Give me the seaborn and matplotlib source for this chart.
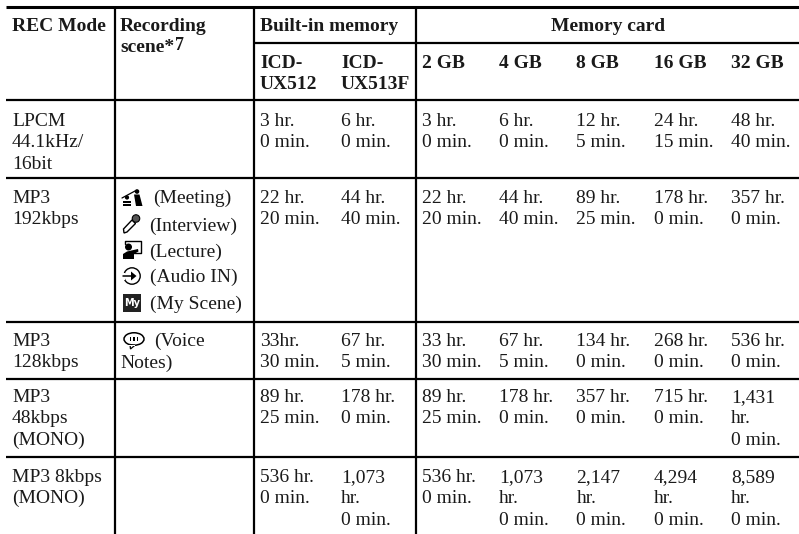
import matplotlib
matplotlib.use('Agg')
import matplotlib.pyplot as plt
from matplotlib.patches import Circle, Ellipse, Polygon, Rectangle
import pandas as pd
import seaborn as sns

# Table content
header_top = ['REC Mode', 'Recording\nscene*']
group_labels = ['Built-in memory', 'Memory card']
column_labels = ['ICD-\nUX512', 'ICD-\nUX513F', '2 GB', '4 GB', '8 GB', '16 GB', '32 GB']
rec_modes = ['LPCM\n44.1kHz/\n16bit', 'MP3\n192kbps', 'MP3\n128kbps', 'MP3\n48kbps\n(MONO)', 'MP3 8kbps\n(MONO)']
scene_labels = ['(Meeting)', '(Interview)', '(Lecture)', '(Audio IN)', '(My Scene)']
voice_labels = ['(Voice', 'Notes)']

ux512 = ['3 hr.\n0 min.', '22 hr.\n20 min.', '33hr.\n30 min.', '89 hr.\n25 min.', '536 hr.\n0 min.']
ux513f = ['6 hr.\n0 min.', '44 hr.\n40 min.', '67 hr.\n5 min.', '178 hr.\n0 min.', '1,073\nhr.\n0 min.']
card_2gb = ['3 hr.\n0 min.', '22 hr.\n20 min.', '33 hr.\n30 min.', '89 hr.\n25 min.', '536 hr.\n0 min.']
card_4gb = ['6 hr.\n0 min.', '44 hr.\n40 min.', '67 hr.\n5 min.', '178 hr.\n0 min.', '1,073\nhr.\n0 min.']
card_8gb = ['12 hr.\n5 min.', '89 hr.\n25 min.', '134 hr.\n0 min.', '357 hr.\n0 min.', '2,147\nhr.\n0 min.']
card_16gb = ['24 hr.\n15 min.', '178 hr.\n0 min.', '268 hr.\n0 min.', '715 hr.\n0 min.', '4,294\nhr.\n0 min.']
card_32gb = ['48 hr.\n40 min.', '357 hr.\n0 min.', '536 hr.\n0 min.', '1,431\nhr.\n0 min.', '8,589\nhr.\n0 min.']
value_columns = [ux512, ux513f, card_2gb, card_4gb, card_8gb, card_16gb, card_32gb]

# Layout in pixels
column_x = [260, 341, 421.5, 499, 576.5, 654, 731]
row_y = [126, 203, 346, 402, 482]
line_step = 21.4
scene_y = [203, 231, 257, 282, 309]
scene_x = [153, 149.5, 149.5, 149.5, 149.5]
ink = '#1a1a1a'

sns.set_theme(style='white')
plt.rcParams['font.family'] = ['Liberation Serif', 'DejaVu Serif']

fig = plt.figure(figsize=(7.99, 5.34), dpi=100)
ax = fig.add_axes([0, 0, 1, 1])

# Rules
rules = pd.DataFrame(
    [(0, 6, 100), (0, 799, 100), (1, 6, 178), (1, 799, 178), (2, 6, 322), (2, 799, 322),
     (3, 6, 379), (3, 799, 379), (4, 6, 457), (4, 799, 457), (5, 254, 42.5), (5, 799, 42.5),
     (6, 115, 7), (6, 115, 534), (7, 254, 7), (7, 254, 534), (8, 415.5, 7), (8, 415.5, 534)],
    columns=['rule', 'x', 'y'])
sns.lineplot(data=rules, x='x', y='y', units='rule', estimator=None, sort=False,
             color='black', linewidth=1.6, ax=ax, solid_capstyle='butt')
top_rule = pd.DataFrame({'x': [6, 799], 'y': [7, 7]})
sns.lineplot(data=top_rule, x='x', y='y', estimator=None, sort=False,
             color='black', linewidth=2.2, ax=ax, solid_capstyle='butt')


def cell(x, y, text, weight='normal', **kw):
    for i, line in enumerate(text.split('\n')):
        ax.text(x, y + i * line_step, line, fontsize=14, fontweight=weight, color=ink,
                va='baseline', ha=kw.get('ha', 'left'))


# Headers
cell(12, 31, header_top[0], weight='bold')
cell(120, 31, header_top[1], weight='bold')
ax.text(175.5, 49.5, '7', fontsize=13, fontweight='bold', color=ink, va='baseline')
cell(260, 31, group_labels[0], weight='bold')
cell(608, 31, group_labels[1], weight='bold', ha='center')
for x, label in zip(column_x, column_labels):
    cell(x, 68, label, weight='bold')

# Body
for y, mode in zip(row_y, rec_modes):
    cell(12, y, mode)
for x, values in zip(column_x, value_columns):
    for y, value in zip(row_y, values):
        cell(x, y, value)
for x, y, label in zip(scene_x, scene_y, scene_labels):
    cell(x, y, label)
cell(154, 346, voice_labels[0])
cell(120, 367.5, voice_labels[1])


def patch(p):
    ax.add_patch(p)


# meeting icon
patch(Circle((127, 197.5), 2.1, color='black', lw=0))
patch(Rectangle((123, 200.5), 8, 2.2, color='black', lw=0))
patch(Rectangle((123, 203.5), 8, 2.5, color='black', lw=0))
patch(Circle((137, 191.5), 2.3, color='black', lw=0))
patch(Polygon([(134, 194.5), (139.5, 194.5), (142.5, 206), (136, 206)], color='black', lw=0))
ax.plot([122, 135], [198, 191], color='black', lw=0.9)
# microphone icon
patch(Polygon([(124, 233), (123.5, 229), (132, 220), (135.5, 223.5), (127, 232)], fc='white', ec='black', lw=1))
patch(Ellipse((136, 218.5), 7.5, 7.5, fc='#555555', ec='black', lw=0.8))
# lecture icon
ax.plot([125, 125, 141, 141, 133], [244, 240.5, 240.5, 253, 253], color='black', lw=1)
patch(Circle((128.5, 247), 3.5, color='black', lw=0))
patch(Polygon([(123, 259), (123, 254), (127, 251.5), (138, 249), (138.5, 251.5), (134, 254), (134, 259)],
              color='black', lw=0))
# audio in icon
patch(Circle((132, 276), 8.2, fill=False, ec='black', lw=1))
patch(Rectangle((122, 272.5), 3, 7, color='white', lw=0))
ax.plot([122.5, 133], [276, 276], color='black', lw=1.1)
patch(Polygon([(131, 271.5), (136.5, 276), (131, 280.5)], color='black', lw=0))
# my scene icon
patch(Rectangle((123, 294), 18, 18, color='#222222', lw=0))
ax.text(132, 306.5, 'My', fontsize=7, fontweight='bold', color='white', ha='center', va='baseline',
        family='DejaVu Sans')
# voice notes icon
patch(Ellipse((134, 339), 20, 12.5, fill=False, ec='black', lw=1.1))
patch(Polygon([(130, 344.5), (130.5, 349), (135, 345.2)], fc='white', ec='black', lw=0.9))
patch(Rectangle((128, 344.5), 7, 1.4, color='white', lw=0))
for dot_x in (130.5, 134, 137.5):
    patch(Rectangle((dot_x - 0.7, 337), 1.4, 3.5, color='black', lw=0))

ax.set_xlim(0, 799)
ax.set_ylim(534, 0)
ax.set_xlabel('')
ax.set_ylabel('')
ax.set_xticks([])
ax.set_yticks([])
sns.despine(ax=ax, left=True, bottom=True)

fig.savefig('out.png', dpi=100, facecolor='white')
